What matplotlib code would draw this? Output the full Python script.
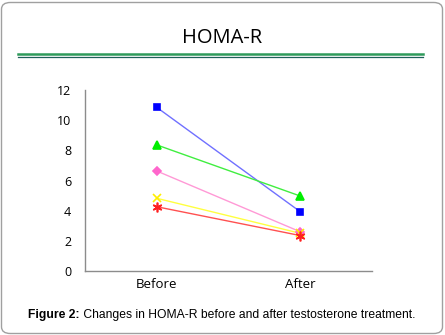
import matplotlib
matplotlib.use("Agg")
import matplotlib.pyplot as plt
from matplotlib.patches import FancyBboxPatch
from matplotlib.lines import Line2D

categories = ["Before", "After"]
blue_vals = [10.85, 3.93]
green_vals = [8.36, 4.97]
pink_vals = [6.63, 2.6]
yellow_vals = [4.82, 2.5]
red_vals = [4.26, 2.35]
yticks = [0, 2, 4, 6, 8, 10, 12]

series = [
    (blue_vals, "#7070ff", "#0000ff", "s", 5),
    (green_vals, "#40ee40", "#00ee00", "^", 6),
    (pink_vals, "#ff99d6", "#ff66cc", "D", 4),
    (yellow_vals, "#ffff40", "#ffee00", "x", 6),
    (red_vals, "#ff5050", "#ff2020", (6, 2, 0), 7),
]

W, H = 445, 335
fig = plt.figure(figsize=(W / 100, H / 100), dpi=100)
fig.patch.set_facecolor("white")

# outer rounded frame
frame = FancyBboxPatch((1.5 / W, 1.5 / H), (W - 4) / W, (H - 4) / H,
                       boxstyle="round,pad=0,rounding_size=0.02",
                       transform=fig.transFigure, facecolor="white",
                       edgecolor="#a0a0a0", linewidth=1.0, zorder=-10)
fig.patches.append(frame)

fig.text(222 / W, 1 - 38 / H, "HOMA-R", ha="center", va="center",
         fontsize=14.5, family="Open Sans", color="black")
fig.add_artist(Line2D([18 / W, 423 / W], [1 - 53.5 / H, 1 - 53.5 / H],
                      transform=fig.transFigure, color="#2e9a5a", linewidth=1.8))
fig.add_artist(Line2D([18 / W, 423 / W], [1 - 57.3 / H, 1 - 57.3 / H],
                      transform=fig.transFigure, color="#1f5f5a", linewidth=0.9))

ax = fig.add_axes([85 / W, 1 - 271 / H, (372 - 85) / W, (271 - 90) / H])
ax.set_facecolor("none")
x = list(range(len(categories)))
for vals, lc, mc, m, ms in series:
    ax.plot(x, vals, color=lc, linewidth=1.0, zorder=2)
    ax.plot(x, vals, linestyle="none", marker=m, markersize=ms, color=mc,
            markeredgecolor=mc, markeredgewidth=1.2, zorder=3)

ax.set_xlim(-0.5, 1.5)
ax.set_ylim(0, 12)
ax.set_xticks(x)
ax.set_xticklabels(categories, family="Open Sans", fontsize=9.5)
ax.set_yticks(yticks)
ax.set_yticklabels([str(v) for v in yticks], family="Open Sans", fontsize=9)
ax.tick_params(length=0, pad=10)
ax.tick_params(axis="x", pad=5)
for s in ["top", "right"]:
    ax.spines[s].set_visible(False)
for s in ["left", "bottom"]:
    ax.spines[s].set_color("#8c8c8c")
    ax.spines[s].set_linewidth(1.0)

# caption: bold part + normal part, centered as a whole
y_cap = 1 - 315 / H
bold = fig.text(0, y_cap, "Figure 2:", ha="left", va="center",
                fontsize=8.7, family="Liberation Sans", fontweight="bold")
norm = fig.text(0, y_cap, " Changes in HOMA-R before and after testosterone treatment.",
                ha="left", va="center", fontsize=8.7, family="Liberation Sans")
fig.canvas.draw()
r = fig.canvas.get_renderer()
bw = bold.get_window_extent(r).width
nw = norm.get_window_extent(r).width
start = (222 - (bw + nw) / 2) / W
bold.set_x(start)
norm.set_x(start + bw / W)

fig.savefig("out.png", dpi=100, facecolor="white")
